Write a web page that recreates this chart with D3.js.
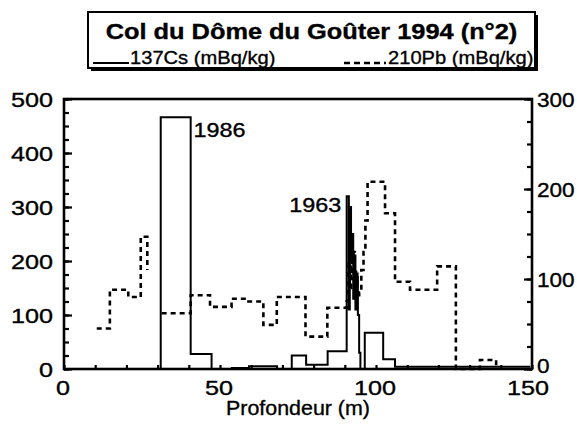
<!DOCTYPE html>
<html>
<head>
<meta charset="utf-8">
<script src="https://cdn.jsdelivr.net/npm/d3@7"></script>
<style>
  body { margin: 0; background: #fff; }
  svg { display: block; }
  text { font-family: "Liberation Sans", Arial, Helvetica, sans-serif; fill: #000; stroke: #000; stroke-width: 0.35px; }
</style>
</head>
<body>
<svg id="chart" width="577" height="429"></svg>
<script>
// 137Cs activity per layer (depth in m, activity in mBq/kg, left axis)
const csFrom = [0, 31.0, 40.6, 47.3, 53.8, 59.3, 68.3, 73.0, 77.6, 84.5,
                90.6, 91.3, 91.6, 92.0, 92.3, 92.7, 93.0, 93.4, 93.8, 94.2, 94.6, 95.0,
                96.4, 102.3, 106.1];
const csTo   = [31.0, 40.6, 47.3, 53.8, 59.3, 68.3, 73.0, 77.6, 84.5, 90.6,
                91.3, 91.6, 92.0, 92.3, 92.7, 93.0, 93.4, 93.8, 94.2, 94.6, 95.0, 96.4,
                102.3, 106.1, 149.5];
const csValue = [0, 466, 28, 0, 2, 5, 0, 25, 8, 33,
                 320, 110, 300, 200, 250, 130, 210, 110, 170, 100, 30, 0,
                 67, 18, 4];

// 210Pb activity per layer (mBq/kg, right axis); gaps break the line
const pbFrom = [10.5, 14.7, 20.6, 24.6, 26.7,
                31.3, 40.6, 46.8, 53.7, 58.5, 63.9, 68.2, 77.4, 84.4,
                90.6, 91.2, 91.6, 92.0, 92.4, 92.8, 93.2, 93.6, 94.0, 94.6, 95.3, 96.0, 96.6,
                97.3, 102.9, 106.1, 110.9, 119.6, 125.6, 133.3, 138.5];
const pbTo   = [14.7, 20.6, 24.6, 26.7, 26.7,
                40.6, 46.8, 53.7, 58.5, 63.9, 68.2, 77.4, 84.4, 90.6,
                91.2, 91.6, 92.0, 92.4, 92.8, 93.2, 93.6, 94.0, 94.6, 95.3, 96.0, 96.6, 97.3,
                102.9, 106.1, 110.9, 119.6, 125.6, 133.3, 138.5, 138.5];
const pbValue = [45, 88, 80, 147, 110,
                 62, 82, 69, 78, 75, 49, 80, 36, 68,
                 75, 120, 90, 140, 100, 130, 85, 110, 80, 85, 110, 130, 165,
                 208, 173, 97, 88, 114, 0, 10, 0];

// Axis ticks and labels
const depthTicks = [0, 50, 100, 150];
const csTicks = [0, 100, 200, 300, 400, 500];
const pbTicks = [0, 100, 200, 300];

// Dated horizons
const markers = [
  { text: "1986", depth: 41.5, value: 442, anchor: "start" },
  { text: "1963", depth: 88.9, value: 304, anchor: "end" }
];

const title = "Col du Dôme du Goûter 1994 (n°2)";
const csLabel = "137Cs (mBq/kg)";
const pbLabel = "210Pb (mBq/kg)";
const xTitle = "Profondeur (m)";

const svg = d3.select("#chart");
const plotL = 64, plotR = 532, plotT = 99, plotB = 369;

const x = d3.scaleLinear().domain([0, 150]).range([plotL, plotR]);
const yL = d3.scaleLinear().domain([0, 500]).range([plotB, plotT]);
const yR = d3.scaleLinear().domain([0, 300]).range([plotB, plotT]);

// lettering is slightly wider than the stock face, hence the horizontal scale
function label(px, py, str, anchor, size, sx, weight) {
  return svg.append("text")
    .attr("transform", `translate(${px},${py}) scale(${sx},1)`)
    .attr("text-anchor", anchor)
    .attr("font-size", size)
    .attr("font-weight", weight || "normal")
    .text(str);
}

// step curves built from layers; a layer that does not touch the previous one starts a new piece
function stepSegments(from, to, vals, yScale) {
  const segs = [];
  let cur = null;
  for (let i = 0; i < vals.length; i++) {
    if (!cur || from[i] !== to[i - 1]) { cur = []; segs.push(cur); }
    cur.push([x(from[i]), yScale(vals[i])]);
    cur.push([x(to[i]), yScale(vals[i])]);
  }
  return segs;
}
const line = d3.line();

// 210Pb dashed
svg.append("g").selectAll("path")
  .data(stepSegments(pbFrom, pbTo, pbValue, yR))
  .join("path")
  .attr("d", line)
  .attr("fill", "none")
  .attr("stroke", "#000")
  .attr("stroke-width", 2.6)
  .attr("stroke-dasharray", "5,4");

// 137Cs solid
svg.append("g").selectAll("path")
  .data(stepSegments(csFrom, csTo, csValue, yL))
  .join("path")
  .attr("d", line)
  .attr("fill", "none")
  .attr("stroke", "#000")
  .attr("stroke-width", 2)
  .attr("stroke-linejoin", "miter");

// axes: inward ticks
function styleAxis(g) {
  g.select(".domain").remove();
  g.selectAll("line").attr("stroke", "#000").attr("stroke-width", 2.2);
  g.selectAll("text").remove();
}
svg.append("g").attr("transform", `translate(${plotL},0)`)
  .call(d3.axisLeft(yL).tickValues(d3.range(0, 501, 25)).tickSize(-5)).call(styleAxis);
svg.append("g").attr("transform", `translate(${plotL},0)`)
  .call(d3.axisLeft(yL).tickValues(csTicks).tickSize(-8)).call(styleAxis);
svg.append("g").attr("transform", `translate(${plotR},0)`)
  .call(d3.axisRight(yR).tickValues(d3.range(0, 301, 25)).tickSize(-5)).call(styleAxis);
svg.append("g").attr("transform", `translate(${plotR},0)`)
  .call(d3.axisRight(yR).tickValues(pbTicks).tickSize(-8)).call(styleAxis);
svg.append("g").attr("transform", `translate(0,${plotB})`)
  .call(d3.axisBottom(x).tickValues(d3.range(0, 151, 10)).tickSize(-4)).call(styleAxis);

// frame
svg.append("rect")
  .attr("x", plotL).attr("y", plotT)
  .attr("width", plotR - plotL).attr("height", plotB - plotT)
  .attr("fill", "none").attr("stroke", "#000").attr("stroke-width", 2.6);

// tick labels
csTicks.forEach(v => label(plotL - 11, yL(v) + 7.5, String(v), "end", 21, 1.2));
pbTicks.forEach(v => label(plotR + 5, yR(v) + (v === 0 ? 4 : 7.5), String(v), "start", 20, 1.13));
depthTicks.forEach(v => label(x(v) - (v === 150 ? 4 : 1), plotB + 26, String(v), "middle", 21, 1.2));
label((plotL + plotR) / 2, plotB + 46, xTitle, "middle", 20, 1.07);

// horizon labels
markers.forEach(m => label(x(m.depth), yL(m.value) + 7, m.text, m.anchor, 20, 1.17));

// legend box with drop shadow
const bx = 88, by = 12, bw = 447, bh = 56;
svg.append("rect").attr("x", bx + 3).attr("y", by + 3).attr("width", bw).attr("height", bh).attr("fill", "#000");
svg.append("rect").attr("x", bx).attr("y", by).attr("width", bw).attr("height", bh)
  .attr("fill", "#fff").attr("stroke", "#000").attr("stroke-width", 2);
label(bx + bw / 2, 39, title, "middle", 21.5, 1.18, "bold");
svg.append("line").attr("x1", 93).attr("x2", 129).attr("y1", 63).attr("y2", 63)
  .attr("stroke", "#000").attr("stroke-width", 2);
label(130, 64, csLabel, "start", 19, 1.06);
svg.append("line").attr("x1", 344).attr("x2", 386).attr("y1", 63).attr("y2", 63)
  .attr("stroke", "#000").attr("stroke-width", 2.6).attr("stroke-dasharray", "6,4");
label(388, 64, pbLabel, "start", 19, 1.06);
</script>
</body>
</html>
